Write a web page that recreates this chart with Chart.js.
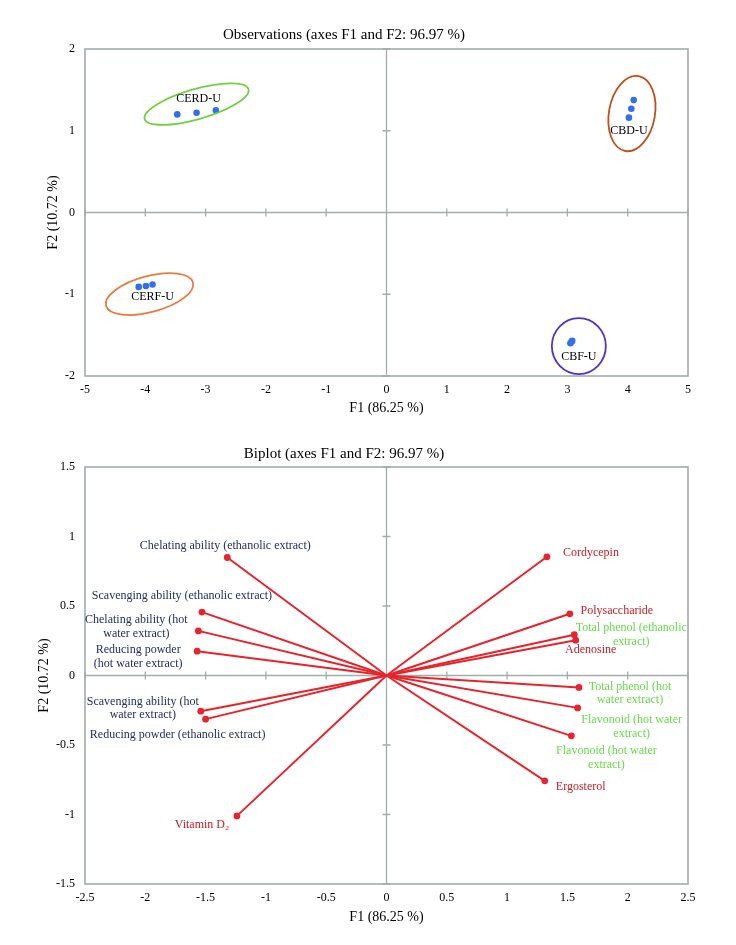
<!DOCTYPE html>
<html>
<head>
<meta charset="utf-8">
<script src="https://cdn.jsdelivr.net/npm/chart.js@4.4.1/dist/chart.umd.min.js"></script>
<style>
  html, body { margin: 0; padding: 0; background: #fff; }
  .box { position: absolute; left: 0; width: 736px; }
  #obsBox { top: 0; height: 420px; }
  #biBox { top: 420px; height: 525px; }
</style>
</head>
<body>
<div class="box" id="obsBox"><canvas id="obsChart" width="736" height="420"></canvas></div>
<div class="box" id="biBox"><canvas id="biChart" width="736" height="525"></canvas></div>
<script>
// observations (scores)
const groups = ["CERD-U", "CBD-U", "CERF-U", "CBF-U"];
const obsF1 = [
	[-3.47, -3.15, -2.83],
	[4.02, 4.06, 4.10],
	[-4.11, -3.99, -3.88],
	[3.05, 3.07, 3.08],
];
const obsF2 = [
	[1.20, 1.22, 1.25],
	[1.16, 1.27, 1.375],
	[-0.91, -0.90, -0.88],
	[-1.60, -1.58, -1.57],
];
// group rings: centre in data units
const ringF1 = [-3.15, 4.07, -3.93, 3.19];
const ringF2 = [1.326, 1.21, -0.998, -1.634];

// variables (loadings)
const variables = [
	"Chelating ability (ethanolic extract)",
	"Scavenging ability (ethanolic extract)",
	"Chelating ability (hot water extract)",
	"Reducing powder (hot water extract)",
	"Scavenging ability (hot water extract)",
	"Reducing powder (ethanolic extract)",
	"Vitamin D₂",
	"Cordycepin",
	"Polysaccharide",
	"Total phenol (ethanolic extract)",
	"Adenosine",
	"Total phenol (hot water extract)",
	"Flavonoid (hot water extract)",
	"Flavonoid (hot water extract)",
	"Ergosterol",
];
const loadF1 = [-1.32, -1.53, -1.56, -1.57, -1.54, -1.50, -1.24, 1.33, 1.52, 1.557, 1.569, 1.596, 1.585, 1.533, 1.312];
const loadF2 = [0.849, 0.456, 0.321, 0.175, -0.257, -0.314, -1.01, 0.854, 0.444, 0.293, 0.254, -0.086, -0.233, -0.434, -0.758];

const obsTicksX = [-5, 5, 1];
const obsTicksY = [-2, 2, 1];
const biTicksX = [-2.5, 2.5, 0.5];
const biTicksY = [-1.5, 1.5, 0.5];

// ---- styles ----
const SERIF = "'Liberation Serif', 'Times New Roman', 'DejaVu Serif', serif";
const FRAME = "#a3acad";
const NAVY = "#222c6c";
const RED_T = "#c42127";
const GREEN_T = "#62dc46";
const LINE_RED = "#e8232b";

const rings = [
	{ rx: 54, ry: 15, rot: -16, color: "#6fd13f", lab: [2, -5] },
	{ rx: 23, ry: 38, rot: 10, color: "#c2501c", lab: [-3, 17] },
	{ rx: 45, ry: 18, rot: -15, color: "#ec7a3c", lab: [3, 3] },
	{ rx: 27, ry: 28, rot: 0, color: "#5231d4", lab: [0, 11] },
];

// line-broken text and offsets for each loading label
const varLines = [
	["Chelating ability (ethanolic extract)"],
	["Scavenging ability (ethanolic extract)"],
	["Chelating ability (hot", "water extract)"],
	["Reducing powder", "(hot water extract)"],
	["Scavenging ability (hot", "water extract)"],
	["Reducing powder (ethanolic extract)"],
	["Vitamin D₂"],
	["Cordycepin"],
	["Polysaccharide"],
	["Total phenol (ethanolic", "extract)"],
	["Adenosine"],
	["Total phenol (hot", "water extract)"],
	["Flavonoid (hot water", "extract)"],
	["Flavonoid (hot water", "extract)"],
	["Ergosterol"],
];
const varShift = [
	[-2, -12], [-20, -16], [-62, -4], [-59, 6], [-58, -3], [-28, 16], [-35, 9],
	[44, -4], [47, -3], [57, 0], [15, 10], [51, 6], [54, 19], [35, 22], [36, 6],
];
const varColor = [NAVY, NAVY, NAVY, NAVY, NAVY, NAVY, RED_T, RED_T, RED_T, GREEN_T, RED_T, GREEN_T, GREEN_T, GREEN_T, RED_T];

// frame, zero axes with small crossing ticks
const framePlugin = {
	id: "frame",
	beforeDatasetsDraw(chart) {
		const { ctx, chartArea: a, scales: { x, y } } = chart;
		const x0 = x.getPixelForValue(0);
		const y0 = y.getPixelForValue(0);
		ctx.save();
		ctx.strokeStyle = FRAME;
		ctx.lineWidth = 1.3;
		ctx.beginPath();
		ctx.moveTo(a.left, y0); ctx.lineTo(a.right, y0);
		ctx.moveTo(x0, a.top); ctx.lineTo(x0, a.bottom);
		x.ticks.forEach((t) => {
			const px = x.getPixelForValue(t.value);
			ctx.moveTo(px, y0 - 4); ctx.lineTo(px, y0 + 4);
		});
		y.ticks.forEach((t) => {
			const py = y.getPixelForValue(t.value);
			ctx.moveTo(x0 - 4, py); ctx.lineTo(x0 + 4, py);
		});
		ctx.stroke();
		ctx.lineWidth = 1.6;
		ctx.strokeRect(a.left, a.top, a.right - a.left, a.bottom - a.top);
		ctx.restore();
	},
};

const fmt = (v) => String(Math.round(v * 100) / 100);

function makeScales(tx, ty, xPad, yTitlePad, xHeight) {
	return {
		x: {
			type: "linear", min: tx[0], max: tx[1],
			grid: { display: false, drawTicks: false },
			border: { display: false },
			ticks: { stepSize: tx[2], padding: 7, color: "#000", font: { family: SERIF, size: 12 }, callback: fmt },
			title: { display: true, text: "F1 (86.25 %)", color: "#000", font: { family: SERIF, size: 14 }, padding: { top: 0, bottom: xPad } },
			afterFit: (s) => { s.height = xHeight; },
		},
		y: {
			type: "linear", min: ty[0], max: ty[1],
			grid: { display: false, drawTicks: false },
			border: { display: false },
			ticks: { stepSize: ty[2], padding: 10, color: "#000", font: { family: SERIF, size: 12 }, callback: fmt },
			title: { display: true, text: "F2 (10.72 %)", color: "#000", font: { family: SERIF, size: 14 }, padding: { top: yTitlePad, bottom: 0 } },
			afterFit: (s) => { s.width = 85; },
		},
	};
}

function titleOpts(text, top, bottom) {
	return {
		display: true, text: text, color: "#000",
		font: { family: SERIF, size: 15, weight: "normal" },
		padding: { top: top, bottom: bottom },
	};
}

// ---- observations chart ----
const ringPlugin = {
	id: "rings",
	afterDatasetsDraw(chart) {
		const { ctx, scales: { x, y } } = chart;
		ctx.save();
		groups.forEach((g, i) => {
			const r = rings[i];
			const cx = x.getPixelForValue(ringF1[i]);
			const cy = y.getPixelForValue(ringF2[i]);
			ctx.beginPath();
			ctx.strokeStyle = r.color;
			ctx.lineWidth = 1.8;
			ctx.ellipse(cx, cy, r.rx, r.ry, (r.rot * Math.PI) / 180, 0, Math.PI * 2);
			ctx.stroke();
			ctx.fillStyle = "#000";
			ctx.font = "12px " + SERIF;
			ctx.textAlign = "center";
			ctx.textBaseline = "middle";
			ctx.fillText(g, cx + r.lab[0], cy + r.lab[1]);
		});
		ctx.restore();
	},
};

new Chart(document.getElementById("obsChart"), {
	type: "scatter",
	data: {
		datasets: groups.map((g, i) => ({
			label: g,
			data: obsF1[i].map((v, j) => ({ x: v, y: obsF2[i][j] })),
			backgroundColor: "#2f6ff0",
			borderColor: "#2f6ff0",
			pointRadius: 3.3,
			borderWidth: 0,
		})),
	},
	options: {
		responsive: false,
		animation: false,
		layout: { padding: { left: 0, right: 48, top: 0, bottom: 0 } },
		scales: makeScales(obsTicksX, obsTicksY, 3, 45, 44),
		plugins: {
			legend: { display: false },
			tooltip: { enabled: false },
			title: titleOpts("Observations (axes F1 and F2: 96.97 %)", 26, 5),
		},
	},
	plugins: [framePlugin, ringPlugin],
});

// ---- biplot ----
const labelPlugin = {
	id: "varLabels",
	afterDatasetsDraw(chart) {
		const { ctx, scales: { x, y } } = chart;
		ctx.save();
		ctx.font = "12px " + SERIF;
		ctx.textAlign = "center";
		ctx.textBaseline = "middle";
		variables.forEach((v, i) => {
			const px = x.getPixelForValue(loadF1[i]) + varShift[i][0];
			const py = y.getPixelForValue(loadF2[i]) + varShift[i][1];
			const lines = varLines[i];
			const lh = 13.7;
			ctx.fillStyle = varColor[i];
			lines.forEach((t, k) => {
				ctx.fillText(t, px, py + (k - (lines.length - 1) / 2) * lh);
			});
		});
		ctx.restore();
	},
};

new Chart(document.getElementById("biChart"), {
	type: "scatter",
	data: {
		datasets: variables.map((v, i) => ({
			label: v,
			data: [{ x: 0, y: 0 }, { x: loadF1[i], y: loadF2[i] }],
			showLine: true,
			borderColor: LINE_RED,
			backgroundColor: LINE_RED,
			borderWidth: 2,
			pointRadius: [0, 3.4],
			pointBorderWidth: 0,
		})),
	},
	options: {
		responsive: false,
		animation: false,
		layout: { padding: { left: 0, right: 48, top: 0, bottom: 0 } },
		scales: makeScales(biTicksX, biTicksY, 19, 36, 61),
		plugins: {
			legend: { display: false },
			tooltip: { enabled: false },
			title: titleOpts("Biplot (axes F1 and F2: 96.97 %)", 25, 4),
		},
	},
	plugins: [framePlugin, labelPlugin],
});
</script>
</body>
</html>
